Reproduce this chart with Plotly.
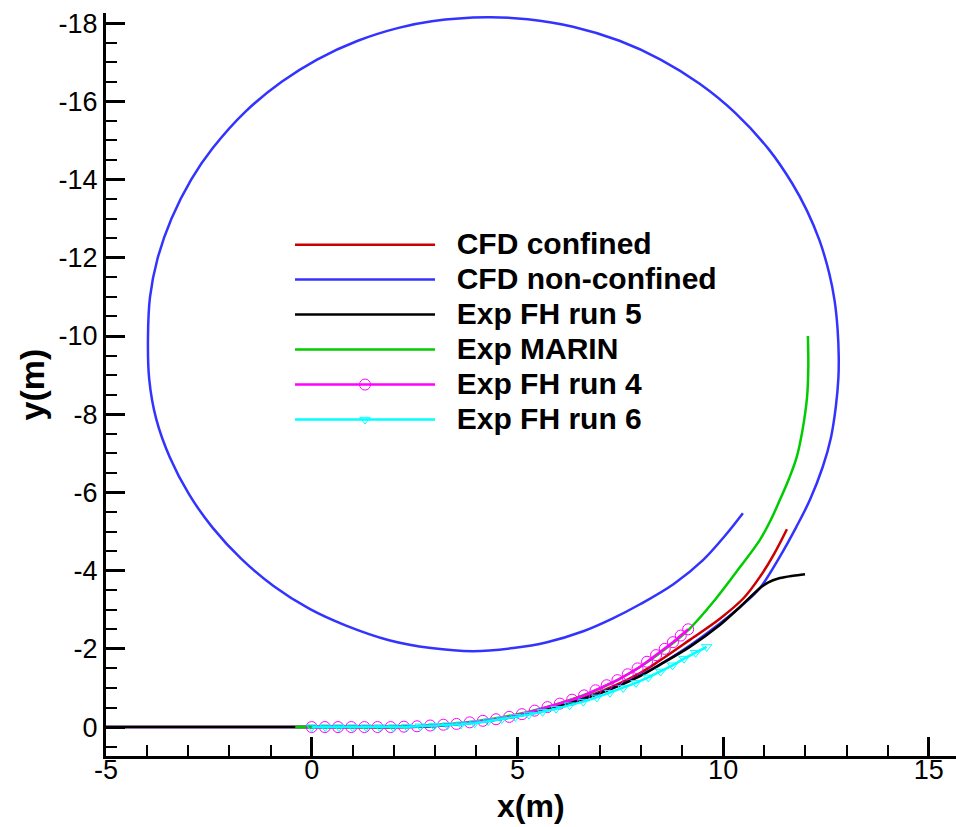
import plotly.graph_objects as go

# ---------------- data ----------------
cfd_confined_x = [-5, 0, 1, 2, 3, 4, 5, 6, 7, 7.98, 8.46, 9.19, 9.92, 10.5, 10.9, 11.25, 11.55]
cfd_confined_y = [0, 0, 0, 0, -0.04, -0.13, -0.3, -0.55, -0.9, -1.38, -1.7, -2.23, -2.77, -3.3, -3.85, -4.45, -5.06]

cfd_nonconf_x = [-5, 0, 1, 2, 3, 4, 5, 6, 7, 8, 9, 9.92, 10.5, 10.89, 11.38, 11.78, 12.11, 12.42,
                 12.62, 12.74, 12.8, 12.81, 12.78, 12.71, 12.58, 12.34, 12.04, 11.68, 11.12, 10.3,
                 9.43, 8.48, 7.48, 6.35, 5.25, 4.26, 2.92, 2.11, 1.12, 0.13, -0.73, -1.61, -2.41,
                 -2.93, -3.41, -3.75, -3.93, -3.98, -3.95, -3.78, -3.45, -2.98, -2.41, -1.71, -0.92,
                 -0.05, 0.82, 1.88, 2.9, 3.92, 4.9, 5.72, 6.6, 7.32, 7.98, 8.8, 9.51, 10.05, 10.48]
cfd_nonconf_y = [0, 0, 0, 0, -0.03, -0.12, -0.28, -0.52, -0.87, -1.33, -1.95, -2.65, -3.15, -3.55,
                 -4.36, -5.12, -5.81, -6.65, -7.4, -8.2, -8.9, -9.46, -10.2, -10.9, -11.6, -12.45,
                 -13.2, -13.9, -14.76, -15.7, -16.45, -17.07, -17.55, -17.91, -18.1, -18.15, -18.05,
                 -17.88, -17.55, -17.07, -16.5, -15.74, -14.8, -14.0, -13.0, -11.97, -11.0, -9.95,
                 -8.9, -7.88, -6.9, -5.95, -5.1, -4.3, -3.6, -3.02, -2.6, -2.22, -2.02, -1.94,
                 -2.02, -2.17, -2.45, -2.78, -3.14, -3.66, -4.27, -4.9, -5.47]

exp_run5_x = [-5, 0, 1, 2, 3, 4, 5, 6, 7, 7.98, 8.46, 9.19, 9.92, 10.41, 10.89, 11.1, 11.38, 11.7, 11.99]
exp_run5_y = [0, 0, 0, 0, -0.03, -0.12, -0.28, -0.52, -0.86, -1.3, -1.59, -2.05, -2.61, -3.07, -3.55,
              -3.7, -3.81, -3.87, -3.91]

exp_marin_x = [-0.4, 0, 1, 2, 3, 4, 5, 6, 7, 8, 8.6, 9.19, 9.8, 10.41, 10.89, 11.15, 11.38, 11.6,
               11.79, 11.93, 12.04, 12.07, 12.06]
exp_marin_y = [0, 0, 0, 0, -0.05, -0.15, -0.33, -0.6, -0.98, -1.55, -2.0, -2.52, -3.25, -4.09, -4.78,
               -5.28, -5.81, -6.35, -6.91, -7.6, -8.44, -9.2, -10.0]

exp_run4_x = [0, 0.32, 0.64, 0.96, 1.28, 1.6, 1.92, 2.24, 2.56, 2.88, 3.2, 3.52, 3.84, 4.16, 4.48,
              4.8, 5.11, 5.42, 5.73, 6.03, 6.33, 6.62, 6.9, 7.17, 7.43, 7.68, 7.92, 8.15, 8.37,
              8.58, 8.78, 8.97, 9.15]
exp_run4_y = [0, 0, 0, 0, 0, 0, 0, -0.01, -0.02, -0.04, -0.06, -0.08, -0.12, -0.16, -0.2, -0.26,
              -0.33, -0.42, -0.51, -0.6, -0.7, -0.81, -0.94, -1.07, -1.2, -1.35, -1.5, -1.67,
              -1.84, -2.0, -2.17, -2.34, -2.5]

exp_run6_x = [0, 0.33, 0.66, 0.99, 1.32, 1.65, 1.98, 2.31, 2.64, 2.97, 3.3, 3.63, 3.96, 4.29, 4.62,
              4.95, 5.28, 5.61, 5.94, 6.27, 6.6, 6.93, 7.25, 7.57, 7.88, 8.18, 8.48, 8.77, 9.05,
              9.33, 9.6]
exp_run6_y = [0, 0, 0, 0, 0, 0, 0, -0.01, -0.02, -0.03, -0.05, -0.07, -0.1, -0.15, -0.2, -0.26,
              -0.32, -0.39, -0.47, -0.56, -0.65, -0.76, -0.88, -1.0, -1.13, -1.27, -1.42, -1.58,
              -1.75, -1.9, -2.05]

series_names = ["CFD confined", "CFD non-confined", "Exp FH run 5", "Exp MARIN",
                "Exp FH run 4", "Exp FH run 6"]

x_tick_vals = [-5, 0, 5, 10, 15]
x_tick_text = ["-5", "0", "5", "10", "15"]
y_tick_vals = [-18, -16, -14, -12, -10, -8, -6, -4, -2, 0]
y_tick_text = ["-18", "-16", "-14", "-12", "-10", "-8", "-6", "-4", "-2", "0"]

# ---------------- figure ----------------
FONT = "Liberation Sans, Arial, Helvetica, sans-serif"
LW = 2.5


def lname(s):
    return '<span style="font-size:30px">&nbsp;&nbsp;<b>%s</b></span>' % s


fig = go.Figure()
fig.add_trace(go.Scatter(x=cfd_confined_x, y=cfd_confined_y, mode="lines", name=lname(series_names[0]),
                         line=dict(color="#cc0000", width=LW, shape="spline", smoothing=1)))
fig.add_trace(go.Scatter(x=cfd_nonconf_x, y=cfd_nonconf_y, mode="lines", name=lname(series_names[1]),
                         line=dict(color="#3333ff", width=LW, shape="spline", smoothing=1)))
fig.add_trace(go.Scatter(x=exp_run5_x, y=exp_run5_y, mode="lines", name=lname(series_names[2]),
                         line=dict(color="#000000", width=LW, shape="spline", smoothing=0.8)))
fig.add_trace(go.Scatter(x=exp_marin_x, y=exp_marin_y, mode="lines", name=lname(series_names[3]),
                         line=dict(color="#00cc00", width=LW, shape="spline", smoothing=1)))
fig.add_trace(go.Scatter(x=exp_run4_x, y=exp_run4_y, mode="lines+markers", name=lname(series_names[4]),
                         line=dict(color="#ff00ff", width=LW),
                         marker=dict(symbol="circle-open", size=11, color="#ff00ff",
                                     line=dict(width=1, color="#ff00ff"))))
fig.add_trace(go.Scatter(x=exp_run6_x, y=exp_run6_y, mode="lines+markers", name=lname(series_names[5]),
                         line=dict(color="#00ffff", width=LW),
                         marker=dict(symbol="triangle-down-open", size=9, color="#00ffff",
                                     line=dict(width=1, color="#00ffff"))))

axis_common = dict(
    showline=True, linewidth=3, linecolor="black", mirror=False,
    showgrid=False, zeroline=False,
    ticks="inside", ticklen=19, tickwidth=3, tickcolor="black",
    tickfont=dict(family=FONT, size=27, color="black"),
    automargin=False,
)

fig.update_layout(
    width=956, height=827,
    template="none",
    paper_bgcolor="white", plot_bgcolor="white",
    margin=dict(l=106, r=0, t=13, b=71, pad=0),
    font=dict(family=FONT, color="black"),
    showlegend=True,
    legend=dict(
        x=0.2165, y=0.7185, xanchor="left", yanchor="top",
        bgcolor="rgba(0,0,0,0)", borderwidth=0,
        font=dict(family=FONT, size=24.6, color="black"),
        itemwidth=140, tracegroupgap=0,
    ),
    xaxis=dict(
        range=[-5, 15.66], tickmode="array", tickvals=x_tick_vals, ticktext=x_tick_text,
        ticklabelstandoff=-12,
        minor=dict(ticks="inside", ticklen=11, tickwidth=2, tickcolor="black", dtick=1, tick0=0,
                   showgrid=False),
        **axis_common,
    ),
    yaxis=dict(
        range=[0.74, -18.26], tickmode="array", tickvals=y_tick_vals, ticktext=y_tick_text,
        title=dict(text="<b>y(m)</b>", font=dict(family=FONT, size=34, color="black"), standoff=4),
        minor=dict(ticks="inside", ticklen=11, tickwidth=2, tickcolor="black", dtick=0.5, tick0=0,
                   showgrid=False),
        **axis_common,
    ),
    annotations=[dict(
        text="<b>x(m)</b>", xref="paper", yref="paper", x=0.5, y=-0.0675,
        xanchor="center", yanchor="middle", showarrow=False,
        font=dict(family=FONT, size=32, color="black"),
    )],
)

fig.write_html("out.html")
